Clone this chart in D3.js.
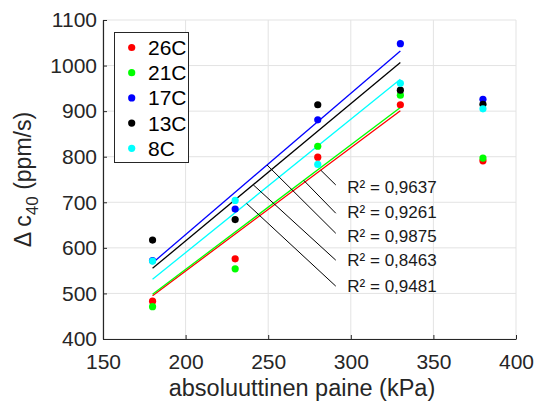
<!DOCTYPE html>
<html><head><meta charset="utf-8">
<script src="https://cdn.jsdelivr.net/npm/d3@7"></script>
<style>
html,body{margin:0;padding:0;background:#fff;}
svg{display:block;font-family:"Liberation Sans",Arial,Helvetica,sans-serif;}
</style></head>
<body><svg id="chart" width="535" height="401"></svg>
<script>
// ---- data ----
const pressures = [180, 230, 280, 330, 380];
const seriesNames = ["26C", "21C", "17C", "13C", "8C"];
const seriesColors = ["#ff0000", "#00ff00", "#0000ff", "#000000", "#00ffff"];
const v26 = [483, 576, 799, 914, 791];
const v21 = [471, 554, 823, 935, 797];
const v17 = [572, 685, 881, 1048, 926];
const v13 = [617, 662, 914, 946, 915];
const v8  = [571, 704, 783, 961, 905];
// trend lines (value at x=180 and x=330)
const trendX = [180, 330];
const trend26 = [495, 901];
const trend21 = [498, 908];
const trend17 = [567, 1032];
const trend13 = [555, 1007];
const trend8  = [531, 970];
const r2Values = ["0,9637", "0,9261", "0,9875", "0,8463", "0,9481"];
const r2Series = [0, 1, 2, 3, 4];
// leader line start (x on trend line, kPa), end and label anchor (data space)
const leaderStartX = [281.8, 271.5, 249.3, 240.9, 236.9];
const leaderEnd = [[290.9, 738], [290.9, 676], [290.9, 632], [290.9, 573], [290.9, 516]];
const labelPos = [[297.9, 734], [297.9, 679], [297.9, 626], [297.9, 573], [297.9, 516]];
const xTicks = [150, 200, 250, 300, 350, 400];
const yTicks = [400, 500, 600, 700, 800, 900, 1000, 1100];

const values = [v26, v21, v17, v13, v8];
const trends = [trend26, trend21, trend17, trend13, trend8];

// ---- layout ----
const svg = d3.select("#chart");
const L = 103, R = 516, T = 20, B = 339;
const x = d3.scaleLinear().domain([150, 400]).range([L, R]);
const y = d3.scaleLinear().domain([400, 1100]).range([B, T]);
const axisColor = "#262626";

// grid
const grid = svg.append("g");
grid.selectAll("line.gx").data(xTicks).join("line")
  .attr("x1", d => x(d)).attr("x2", d => x(d)).attr("y1", T).attr("y2", B)
  .attr("stroke", "#e3e3e3").attr("stroke-width", 1);
grid.selectAll("line.gy").data(yTicks).join("line")
  .attr("y1", d => y(d)).attr("y2", d => y(d)).attr("x1", L).attr("x2", R)
  .attr("stroke", "#e3e3e3").attr("stroke-width", 1);

// axes
const fmt = d3.format("d");
const xAxis = d3.axisBottom(x).tickValues(xTicks).tickFormat(fmt).tickSizeInner(-4).tickSizeOuter(0).tickPadding(15);
const yAxis = d3.axisLeft(y).tickValues(yTicks).tickFormat(fmt).tickSizeInner(-4).tickSizeOuter(0).tickPadding(6);
const gx = svg.append("g").attr("transform", `translate(0,${B})`).call(xAxis);
const gy = svg.append("g").attr("transform", `translate(${L},0)`).call(yAxis);
[gx, gy].forEach(g => {
  g.select(".domain").attr("stroke", axisColor).attr("stroke-width", 1.2);
  g.selectAll(".tick line").attr("stroke", axisColor);
  g.selectAll(".tick text").attr("fill", axisColor)
    .style("font-size", "21px").style("font-family", "Liberation Sans, Arial, sans-serif");
});
gx.selectAll(".tick text").attr("dy", "0.71em");

// trend lines
const tl = svg.append("g");
trends.forEach((t, i) => {
  tl.append("line")
    .attr("x1", x(trendX[0])).attr("y1", y(t[0]))
    .attr("x2", x(trendX[1])).attr("y2", y(t[1]))
    .attr("stroke", seriesColors[i]).attr("stroke-width", 1.3);
});

// leader lines + labels
const ann = svg.append("g");
r2Values.forEach((v, k) => {
  const si = r2Series[k];
  const t = trends[si];
  const sx = leaderStartX[k];
  const sy = t[0] + (t[1] - t[0]) * (sx - trendX[0]) / (trendX[1] - trendX[0]);
  ann.append("line")
    .attr("x1", x(sx)).attr("y1", y(sy))
    .attr("x2", x(leaderEnd[k][0])).attr("y2", y(leaderEnd[k][1]))
    .attr("stroke", "#000").attr("stroke-width", 1);
  ann.append("text")
    .attr("x", x(labelPos[k][0])).attr("y", y(labelPos[k][1]))
    .attr("dy", "0.35em")
    .attr("fill", "#1a1a1a")
    .style("font-size", "17px")
    .text("R\u00b2 = " + v);
});

// points
const pts = svg.append("g");
values.forEach((vals, i) => {
  pts.selectAll(null).data(vals).join("circle")
    .attr("cx", (d, j) => x(pressures[j])).attr("cy", d => y(d))
    .attr("r", 3.6).attr("fill", seriesColors[i]);
});

// legend
const lg = svg.append("g");
lg.append("rect").attr("x", 114.5).attr("y", 32.5).attr("width", 74).attr("height", 130)
  .attr("fill", "#fff").attr("stroke", axisColor).attr("stroke-width", 1);
seriesNames.forEach((n, i) => {
  const cy = 47.5 + i * 25.2;
  lg.append("circle").attr("cx", 131.7).attr("cy", cy).attr("r", 3.6).attr("fill", seriesColors[i]);
  lg.append("text").attr("x", 148).attr("y", cy).attr("dy", "0.36em")
    .attr("fill", "#000").style("font-size", "21px").text(n);
});

// axis titles
svg.append("text").attr("x", 302).attr("y", 396)
  .attr("text-anchor", "middle").attr("fill", axisColor).style("font-size", "23.5px")
  .text("absoluuttinen paine (kPa)");
const yl = svg.append("text")
  .attr("transform", `translate(31,${(T + B) / 2}) rotate(-90)`)
  .attr("text-anchor", "middle").attr("fill", axisColor).style("font-size", "23px");
yl.append("tspan").text("\u0394 c");
yl.append("tspan").attr("dy", 7).style("font-size", "17px").text("40");
yl.append("tspan").attr("dy", -7).text(" (ppm/s)");
</script></body></html>
